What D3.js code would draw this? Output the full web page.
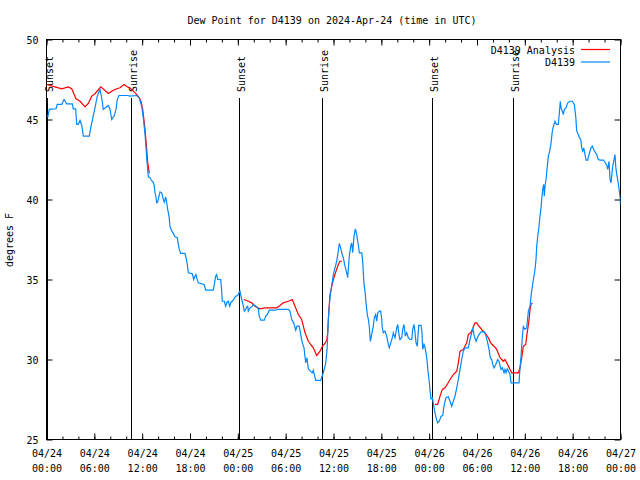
<!DOCTYPE html>
<html><head><meta charset="utf-8">
<script src="https://cdn.jsdelivr.net/npm/d3@7"></script>
<style>
html,body{margin:0;padding:0;background:#fff;}
svg{display:block;}
text{font-family:"DejaVu Sans Mono",monospace;font-size:10px;fill:#000;}
</style></head><body>
<svg id="chart" width="640" height="480"></svg>
<script>
// ---- data (hours after 2024-04-24 00:00 UTC, dew point in deg F) ----
const obsHours = [0.15,0.35,1.19,1.35,1.91,2.2,2.53,3.24,3.36,3.66,
3.79,3.99,4.2,4.42,4.62,5.37,5.54,5.75,6.08,6.37,
6.71,6.92,7.12,7.38,7.75,7.97,8.18,8.47,8.72,8.88,
9.09,10.14,10.47,11.31,11.64,11.94,12.14,12.36,12.57,12.77,
12.98,13.11,13.27,13.4,13.52,13.61,13.74,13.82,13.95,14.11,
14.24,14.45,14.65,14.78,14.95,15.08,15.2,15.37,15.49,15.71,
15.91,16.12,16.41,16.53,16.66,16.83,17.37,17.5,17.66,17.79,
18.29,18.46,18.63,18.75,18.88,19.04,19.76,19.97,20.92,21.05,
21.22,21.35,21.48,21.85,21.98,22.05,22.3,22.48,22.64,22.8,
22.98,23.14,23.31,23.52,23.73,23.98,24.18,24.27,24.49,24.69,
24.81,24.99,25.11,25.24,25.31,25.53,25.74,25.94,26.15,26.37,
26.57,26.69,26.87,27.32,27.5,27.7,27.95,28.66,29.08,30.33,
30.54,30.76,31.01,31.26,31.42,31.71,31.89,32.09,32.3,32.51,
32.68,32.84,33.09,33.34,33.47,33.59,33.77,34.4,
34.6,34.72,35.0,35.19,35.37,35.56,35.78,35.98,36.19,36.4,
36.6,36.73,36.9,37.03,37.23,37.44,37.66,37.78,37.86,37.98,
38.16,38.28,38.41,38.57,38.74,38.91,39.11,39.24,39.54,39.66,
39.83,39.95,40.08,40.24,40.37,40.49,40.62,40.79,40.99,41.12,
41.29,41.42,41.55,41.75,41.92,42.05,42.12,42.25,42.46,42.67,
42.88,43.0,43.18,43.38,43.5,43.72,43.93,44.05,44.22,44.34,
44.56,44.68,44.84,45.01,45.18,45.38,45.6,45.81,45.94,46.1,
46.23,46.35,46.51,46.69,46.98,47.1,47.19,47.35,47.48,47.69,
47.86,48.02,48.11,48.23,48.4,48.65,48.86,49.07,49.27,49.49,
49.7,49.77,49.9,50.11,50.4,50.62,50.83,51.03,51.24,51.46,
51.66,51.87,52.08,52.28,52.5,52.91,53.12,53.34,53.46,53.66,
53.88,54.04,54.25,54.5,54.92,55.13,55.34,55.51,55.67,55.85,
55.97,56.13,56.35,56.6,56.76,57.01,57.18,57.39,57.51,57.64,
57.8,58.14,58.27,59.27,59.4,59.52,59.69,59.81,60.02,60.24,
60.44,60.65,60.78,60.94,61.11,61.28,61.4,61.49,61.62,61.78,
61.9,62.03,62.12,62.24,62.37,62.44,62.53,62.66,62.78,62.95,
63.12,63.29,63.45,63.62,63.79,63.95,64.2,64.33,64.45,64.54,
64.7,64.83,64.95,65.17,65.38,65.67,65.96,66.21,66.38,66.51,
66.71,66.84,67.01,67.14,67.26,67.39,67.55,67.68,67.89,68.05,
68.3,68.47,68.64,68.81,69.02,69.22,69.43,69.85,70.06,70.27,
70.4,70.56,70.69,70.81,70.9,71.02,71.15,71.31,71.4,71.53,
71.65,71.82,71.94,72.0];

const obsDewpt = [45.13,45.63,45.67,45.94,45.94,46.25,45.98,45.98,45.67,45.67,
44.69,44.69,44.94,44.64,43.96,43.96,44.48,44.94,45.73,46.46,
46.88,46.36,45.63,45.73,45.88,45.63,45.0,45.21,45.63,46.25,
46.5,46.5,46.46,46.5,46.36,45.83,45.11,44.06,42.61,41.42,
41.36,41.25,41.14,41.08,40.83,40.42,40.11,39.79,39.83,40.21,
40.48,40.42,40.0,39.83,40.17,39.79,39.38,38.96,38.33,38.02,
37.88,37.67,37.61,37.19,36.88,36.63,36.63,36.36,35.94,35.42,
35.36,35.0,35.21,35.31,35.04,34.79,34.69,34.33,34.33,34.69,
35.21,35.31,35.0,35.0,34.27,33.64,33.64,33.33,33.58,33.64,
33.33,33.58,33.64,33.79,33.96,34.0,34.21,34.27,33.75,33.33,
33.02,33.13,33.29,33.33,33.02,33.23,33.29,33.44,33.38,33.29,
33.17,32.71,32.46,32.46,32.71,32.81,33.08,33.08,33.13,33.13,
33.02,32.5,32.29,31.83,32.08,32.08,31.56,31.04,30.73,29.79,
30.11,29.42,29.27,29.17,29.33,29.06,28.69,28.69,
29.0,29.17,29.69,30.63,32.63,33.88,34.63,35.31,35.73,36.14,
36.77,37.25,36.98,36.67,36.36,35.83,35.42,35.11,35.63,36.46,
37.08,37.29,36.67,37.71,38.17,37.81,37.19,36.67,36.67,36.14,
34.69,34.27,33.54,32.81,32.5,32.08,31.14,31.56,32.08,32.61,
32.81,32.39,32.92,33.02,33.02,32.5,31.98,31.67,31.77,31.46,
30.94,30.73,31.04,31.36,31.67,31.36,31.98,32.19,31.56,31.25,
31.36,31.88,32.19,31.46,31.67,31.36,31.25,31.25,31.88,32.19,
31.67,31.04,30.83,32.13,32.13,31.67,30.63,30.94,30.75,30.13,
29.25,28.56,28.06,27.54,27.61,26.88,26.36,26.04,26.14,26.46,
26.5,26.77,27.19,27.61,27.67,27.39,27.08,27.39,27.71,28.23,
28.75,29.38,30.0,30.52,30.73,30.73,31.25,31.67,31.98,31.46,
31.14,31.36,31.56,31.73,31.73,31.46,31.04,30.63,30.11,30.0,
29.69,29.48,29.69,30.0,29.89,29.38,29.48,29.17,29.38,29.17,
29.42,29.06,28.54,28.54,29.5,30.19,31.44,32.06,31.88,31.98,
33.02,33.33,33.96,34.58,35.11,35.63,36.25,37.08,37.71,38.33,
38.96,39.48,40.0,40.63,40.94,40.21,40.83,41.25,41.88,42.71,
43.02,43.54,44.27,44.63,44.89,44.69,44.69,45.42,46.14,45.73,
45.52,45.31,45.63,45.73,46.04,46.14,46.14,45.94,45.21,44.27,
44.06,43.86,43.75,43.23,43.02,43.23,42.81,42.46,42.46,42.81,
43.23,43.33,43.13,42.96,42.81,42.5,42.46,42.46,42.33,42.13,
41.88,42.39,41.25,41.04,41.46,42.08,42.39,42.81,42.08,41.56,
41.25,40.63,40.21,39.69];

// analysis series; null marks a gap
const anaHours = [0.03,1.07,1.91,2.73,3.16,3.70,4.20,4.83,5.24,5.67,
6.08,6.80,7.34,7.75,8.18,8.81,9.22,9.72,10.14,10.69,
11.31,11.64,11.85,12.07,12.36,12.57,12.69,12.90, null,
24.77,25.31,25.74,26.15,26.77,27.40,28.88,29.29,29.70,30.33,
30.83,31.17,31.59,32.01,32.43,32.84,33.47,33.89,34.31,34.60,
34.93,35.15,35.27,35.40,35.56,35.78,35.98,36.32,36.60,36.82,
37.07, null,
48.73,49.07,49.36,49.65,49.99,50.33,50.62,51.03,51.46,51.66,
51.87,52.28,52.71,52.91,53.21,53.41,53.75,53.96,54.25,54.67,
55.01,55.42,55.72,56.13,56.47,56.89,57.30,57.51,57.73,58.14,
58.35,59.18,59.40,59.61,59.81,60.11,60.24,60.36,60.53,60.65,
60.78,60.94];
const anaDewpt = [47.19,47.04,46.92,47.04,46.92,46.29,46.14,45.79,46.0,46.46,
46.61,47.04,46.81,46.63,46.77,46.92,46.98,47.19,47.04,46.88,
46.56,46.36,46.14,45.63,44.38,43.13,42.31,41.63, null,
33.75,33.64,33.54,33.33,33.17,33.23,33.23,33.38,33.54,33.64,
33.75,33.33,32.81,32.5,31.67,31.14,30.73,30.25,30.52,30.83,
31.0,31.2,31.67,32.92,34.06,34.58,35.0,35.52,35.94,36.14,
36.14, null,
27.19,27.19,27.71,28.13,28.23,28.5,28.75,29.06,29.27,29.79,
30.52,30.63,31.04,31.56,31.67,31.88,32.29,32.29,32.08,31.83,
31.67,31.36,31.04,30.83,30.63,30.11,29.89,30.0,29.79,29.38,
29.17,29.17,29.48,30.11,30.83,30.94,31.46,31.88,32.5,33.13,
33.44,33.54];

const eventHours = [0.06, 10.64, 24.18, 34.6, 48.32, 58.56];
const eventLabels = ["Sunset","Sunrise","Sunset","Sunrise","Sunset","Sunrise"];
const yTicks = [25,30,35,40,45,50];
const seriesNames = ["D4139 Analysis","D4139"];
const seriesColors = ["#ff0000","#0088ff"];
const titleText = "Dew Point for D4139 on 2024-Apr-24 (time in UTC)";
const yLabel = "degrees F";

// ---- chart ----
const svg = d3.select("#chart");
const t0 = Date.UTC(2024,3,24);
const toDate = h => new Date(t0 + h*3600000);
const L = 46.5, R = 620.5, T = 39.5, B = 439.5;
const x = d3.scaleUtc().domain([toDate(0), toDate(72)]).range([L, R]);
const y = d3.scaleLinear().domain([25,50]).range([B, T]);

svg.append("defs").append("clipPath").attr("id","clip")
  .append("rect").attr("x",L).attr("y",T).attr("width",R-L).attr("height",B-T);

// sunrise / sunset markers
const ev = svg.append("g");
eventHours.forEach((h,i)=>{
  const ex = Math.round(x(toDate(h))) + 0.5;
  ev.append("line").attr("x1",ex).attr("x2",ex).attr("y1",98).attr("y2",B)
    .attr("stroke","#000").attr("stroke-width",1);
  ev.append("text").attr("transform",`translate(${ex+5.5},92) rotate(-90)`)
    .attr("text-anchor","start").text(eventLabels[i]);
});

// axes (inward ticks, mirrored)
function strip(g){ g.select(".domain").remove(); }
svg.append("g").attr("transform",`translate(0,${B})`)
  .call(d3.axisBottom(x).ticks(d3.utcHour.every(2)).tickSize(-3).tickFormat("")).call(strip);
svg.append("g").attr("transform",`translate(0,${T})`)
  .call(d3.axisTop(x).ticks(d3.utcHour.every(2)).tickSize(-3).tickFormat("")).call(strip);
svg.append("g").attr("transform",`translate(0,${T})`)
  .call(d3.axisTop(x).ticks(d3.utcHour.every(6)).tickSize(-6).tickFormat("")).call(strip);
const gx = svg.append("g").attr("transform",`translate(0,${B})`)
  .call(d3.axisBottom(x).ticks(d3.utcHour.every(6)).tickSize(-6).tickPadding(0)).call(strip);
const fD = d3.utcFormat("%m/%d"), fT = d3.utcFormat("%H:%M");
gx.selectAll(".tick text").each(function(d){
  const t = d3.select(this).attr("dy",null).attr("y",null).text(null);
  t.append("tspan").attr("x",0).attr("y",17).text(fD(d));
  t.append("tspan").attr("x",0).attr("y",32).text(fT(d));
});
svg.append("g").attr("transform",`translate(${L},0)`)
  .call(d3.axisLeft(y).tickValues(yTicks).tickSize(-6).tickPadding(8)).call(strip)
  .selectAll("text").attr("dy","0.36em");
svg.append("g").attr("transform",`translate(${R},0)`)
  .call(d3.axisRight(y).tickValues(yTicks).tickSize(-6).tickFormat("")).call(strip);

svg.selectAll(".tick line").attr("stroke","#000");

// border
svg.append("rect").attr("x",L).attr("y",T).attr("width",R-L).attr("height",B-T)
  .attr("fill","none").attr("stroke","#000").attr("stroke-width",1);

// series
const line = d3.line()
  .defined(d => d[1] != null)
  .x(d => x(toDate(d[0])))
  .y(d => y(d[1]));
const plot = svg.append("g").attr("clip-path","url(#clip)");
plot.append("path").datum(d3.zip(anaHours, anaDewpt))
  .attr("fill","none").attr("stroke",seriesColors[0]).attr("stroke-width",1.2).attr("d",line);
plot.append("path").datum(d3.zip(obsHours, obsDewpt))
  .attr("fill","none").attr("stroke",seriesColors[1]).attr("stroke-width",1.2).attr("d",line);

// legend
seriesNames.forEach((n,i)=>{
  const ly = 50 + i*12.5;
  svg.append("text").attr("x",575).attr("y",ly+3.8).attr("text-anchor","end").text(n);
  svg.append("line").attr("x1",581).attr("x2",610).attr("y1",ly-0.5).attr("y2",ly-0.5)
    .attr("stroke",seriesColors[i]).attr("stroke-width",1.2);
});

// title & y label
svg.append("text").attr("x",332).attr("y",24).attr("text-anchor","middle").text(titleText);
svg.append("text").attr("transform","translate(13,240) rotate(-90)")
  .attr("text-anchor","middle").text(yLabel);
</script>
</body></html>
